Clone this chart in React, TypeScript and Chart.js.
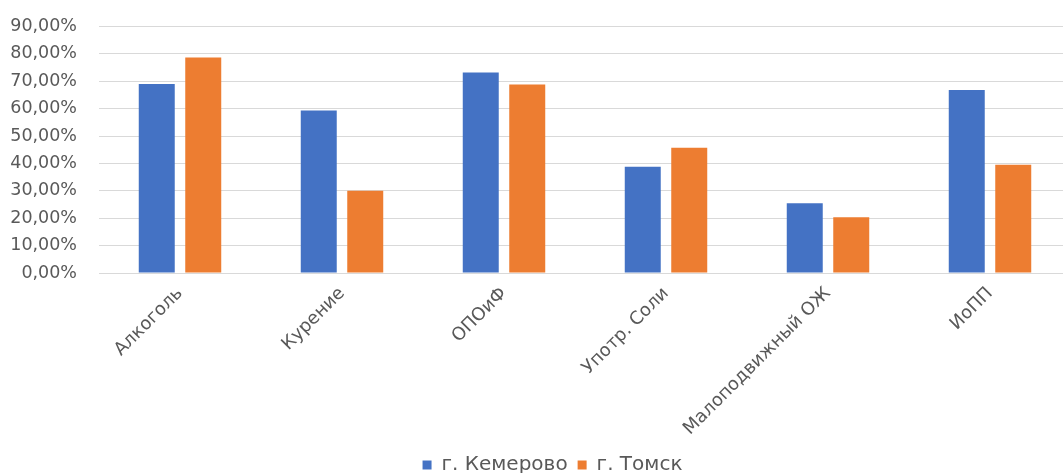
import React, { useEffect, useRef } from "react";
import { Chart, registerables } from "chart.js";

Chart.register(...registerables);

const categories = ["Алкоголь", "Курение", "ОПОиФ", "Употр. Соли", "Малоподвижный ОЖ", "ИоПП"];
const kemerovo = [69, 59.3, 73.2, 38.8, 25.5, 66.8];
const tomsk = [78.7, 30, 68.8, 45.7, 20.4, 39.5];
const seriesNames = ["г. Кемерово", "г. Томск"];
const yMax = 90;
const yStep = 10;

const FONT = "'DejaVu Sans', sans-serif";
const TEXT = "#595959";
const W = 1071;
const H = 491;
const SHIFT = 6;

const legendShift = {
  id: "legendShift",
  afterLayout(chart: any) {
    if (chart.legend) chart.legend.left += 34;
  },
};

export default function App() {
  const ref = useRef<HTMLCanvasElement>(null);
  useEffect(() => {
    if (!ref.current) return;
    const chart = new Chart(ref.current, {
      type: "bar",
      data: {
        labels: categories,
        datasets: [
          {
            label: seriesNames[0],
            data: kemerovo,
            backgroundColor: "#4472C4",
            categoryPercentage: 0.574,
            barPercentage: 0.774,
          },
          {
            label: seriesNames[1],
            data: tomsk,
            backgroundColor: "#ED7D31",
            categoryPercentage: 0.574,
            barPercentage: 0.774,
          },
        ],
      },
      options: {
        responsive: false,
        animation: false,
        devicePixelRatio: 1,
        layout: { padding: { top: 20, left: 0, right: 0, bottom: 0 } },
        plugins: {
          tooltip: { enabled: false },
          legend: {
            position: "bottom",
            labels: {
              boxWidth: 9,
              boxHeight: 9,
              padding: 10,
              color: TEXT,
              font: { family: FONT, size: 20 },
            },
          },
        },
        scales: {
          x: {
            grid: { display: false },
            border: { display: false },
            ticks: {
              color: TEXT,
              font: { family: FONT, size: 18 },
              minRotation: 45,
              maxRotation: 45,
              autoSkip: false,
              padding: 2,
            },
            afterFit: (scale: any) => {
              scale.height = 172;
            },
          },
          y: {
            min: 0,
            max: yMax,
            grid: { color: "#d9d9d9", lineWidth: 1, drawTicks: false },
            border: { display: false },
            ticks: {
              stepSize: yStep,
              color: TEXT,
              padding: 22,
              font: { family: FONT, size: 17.5 },
              callback: (v: any) => Number(v).toFixed(2).replace(".", ",") + "%",
            },
            afterFit: (scale: any) => {
              scale.width = 99;
            },
          },
        },
      },
      plugins: [legendShift],
    });
    return () => chart.destroy();
  }, []);
  return (
    <div style={{ position: "fixed", left: 0, top: 0, width: 1063, height: 473, overflow: "hidden", background: "#fff" }}>
      <canvas ref={ref} width={W} height={H} style={{ width: W, height: H, display: "block", marginTop: -SHIFT }} />
    </div>
  );
}
